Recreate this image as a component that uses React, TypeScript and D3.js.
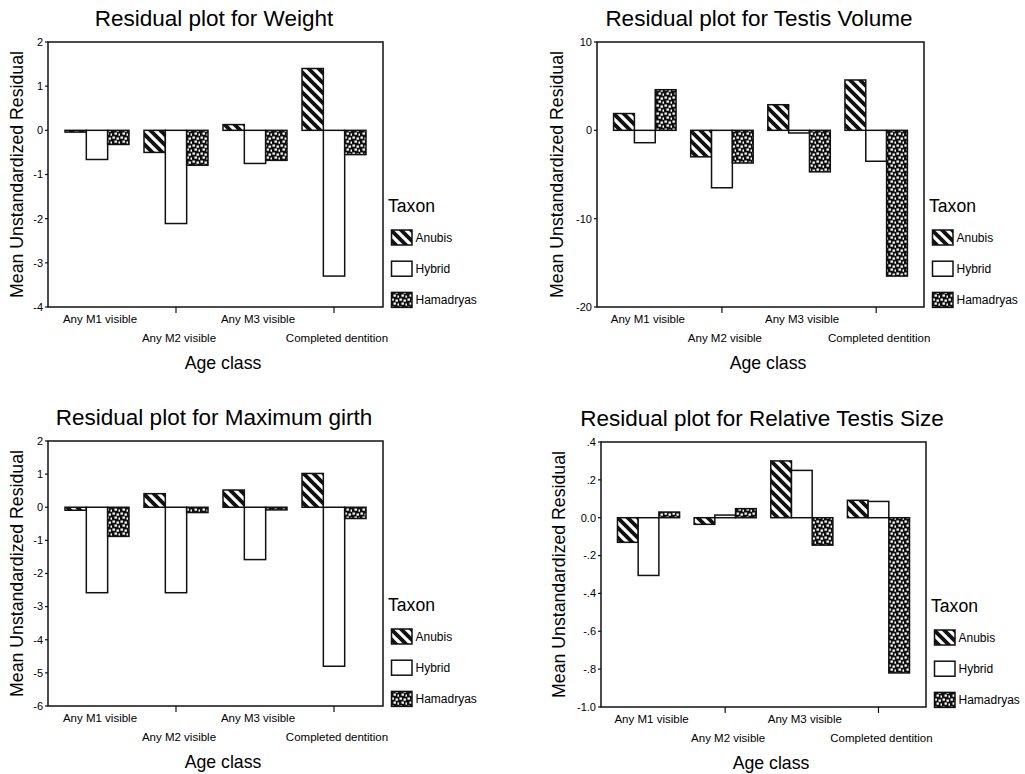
import React, { useEffect, useRef } from 'react'
import * as d3 from 'd3'

// categories and series
const categories = ['Any M1 visible', 'Any M2 visible', 'Any M3 visible', 'Completed dentition']
const taxa = ['Anubis', 'Hybrid', 'Hamadryas']

const weightAnubis = [-0.04, -0.5, 0.13, 1.4]
const weightHybrid = [-0.66, -2.11, -0.75, -3.3]
const weightHamadryas = [-0.32, -0.79, -0.68, -0.55]

const volumeAnubis = [1.9, -3.0, 2.9, 5.7]
const volumeHybrid = [-1.4, -6.5, -0.3, -3.5]
const volumeHamadryas = [4.6, -3.7, -4.7, -16.5]

const girthAnubis = [-0.09, 0.41, 0.52, 1.02]
const girthHybrid = [-2.58, -2.58, -1.58, -4.8]
const girthHamadryas = [-0.88, -0.16, -0.08, -0.34]

const relAnubis = [-0.13, -0.035, 0.3, 0.092]
const relHybrid = [-0.305, 0.014, 0.25, 0.086]
const relHamadryas = [0.03, 0.048, -0.145, -0.82]

const weightTicks = [2, 1, 0, -1, -2, -3, -4]
const volumeTicks = [10, 0, -10, -20]
const girthTicks = [2, 1, 0, -1, -2, -3, -4, -5, -6]
const relTicks = [0.4, 0.2, 0, -0.2, -0.4, -0.6, -0.8, -1.0]
const relTickLabels = ['.4', '.2', '0.0', '-.2', '-.4', '-.6', '-.8', '-1.0']

const FONT = '"Liberation Sans", Arial, sans-serif'
const fills = ['url(#stripes)', '#fff', 'url(#dots)']

const panels = [
  {
    title: 'Residual plot for Weight',
    series: [weightAnubis, weightHybrid, weightHamadryas],
    ticks: weightTicks, tickLabels: weightTicks.map(String),
    x0: 48, x1: 383, y0: 42, y1: 307, ylabOff: 25,
  },
  {
    title: 'Residual plot for Testis Volume',
    series: [volumeAnubis, volumeHybrid, volumeHamadryas],
    ticks: volumeTicks, tickLabels: volumeTicks.map(String),
    x0: 597, x1: 924, y0: 42, y1: 307, ylabOff: 34,
  },
  {
    title: 'Residual plot for Maximum girth',
    series: [girthAnubis, girthHybrid, girthHamadryas],
    ticks: girthTicks, tickLabels: girthTicks.map(String),
    x0: 48, x1: 383, y0: 441, y1: 706, ylabOff: 25,
  },
  {
    title: 'Residual plot for Relative Testis Size',
    series: [relAnubis, relHybrid, relHamadryas],
    ticks: relTicks, tickLabels: relTickLabels,
    x0: 601, x1: 926, y0: 442, y1: 707, ylabOff: 36,
  },
]

const App = () => {
  const ref = useRef<SVGSVGElement>(null)

  useEffect(() => {
    const root = d3.select(ref.current)
    root.selectAll('*').remove()

    const defs = root.append('defs')
    const stripes = defs
      .append('pattern')
      .attr('id', 'stripes')
      .attr('patternUnits', 'userSpaceOnUse')
      .attr('width', 10)
      .attr('height', 10)
    stripes.append('rect').attr('width', 10).attr('height', 10).attr('fill', '#fff')
    stripes
      .append('path')
      .attr('d', 'M-1,-1 L11,11 M-6,4 L6,16 M4,-6 L16,6')
      .attr('stroke', '#111')
      .attr('stroke-width', 3.8)

    // speckled black fill with staggered white squares
    const dots = defs
      .append('pattern')
      .attr('id', 'dots')
      .attr('patternUnits', 'userSpaceOnUse')
      .attr('width', 8)
      .attr('height', 8)
    dots.append('rect').attr('width', 8).attr('height', 8).attr('fill', '#111')
    ;[[0.5, 0.5], [4.5, 1.5], [2.5, 4.5], [6.5, 5.5]].forEach(([dx, dy]) => {
      dots.append('rect').attr('x', dx).attr('y', dy).attr('width', 2.4).attr('height', 2.2).attr('fill', '#fff')
    })

    panels.forEach(p => {
      const g = root.append('g')
      const x = d3.scaleBand<string>().domain(categories).range([p.x0, p.x1]).paddingInner(0.19).paddingOuter(0.215)
      const xs = d3.scaleBand<string>().domain(taxa).range([0, x.bandwidth()])
      const ext = d3.extent(p.ticks) as [number, number]
      const y = d3.scaleLinear().domain(ext).range([p.y1, p.y0])

      // title
      g.append('text')
        .text(p.title)
        .attr('x', (p.x0 + p.x1) / 2 - 1.5)
        .attr('y', p.y0 - 16)
        .attr('text-anchor', 'middle')
        .attr('font-size', 22.5)
        .attr('font-family', FONT)

      // bars
      p.series.forEach((vals, si) => {
        g.append('g')
          .selectAll('rect')
          .data(vals)
          .enter()
          .append('rect')
          .attr('x', (d, i) => (x(categories[i]) as number) + (xs(taxa[si]) as number))
          .attr('width', xs.bandwidth())
          .attr('y', d => y(Math.max(0, d)))
          .attr('height', d => Math.max(1, Math.abs(y(d) - y(0))))
          .attr('fill', fills[si])
          .attr('stroke', '#111')
          .attr('stroke-width', 1.5)
      })

      // frame
      g.append('rect')
        .attr('x', p.x0)
        .attr('y', p.y0)
        .attr('width', p.x1 - p.x0)
        .attr('height', p.y1 - p.y0)
        .attr('fill', 'none')
        .attr('stroke', '#111')
        .attr('stroke-width', 1.5)

      // y ticks
      const yt = g.append('g').selectAll('g').data(p.ticks).enter().append('g')
      yt.append('line')
        .attr('x1', p.x0 - 3)
        .attr('x2', p.x0)
        .attr('y1', d => y(d))
        .attr('y2', d => y(d))
        .attr('stroke', '#111')
        .attr('stroke-width', 1.2)
      yt.append('text')
        .text((d, i) => p.tickLabels[i])
        .attr('x', p.x0 - 5)
        .attr('y', d => y(d))
        .attr('dy', '0.35em')
        .attr('text-anchor', 'end')
        .attr('font-size', 11)
        .attr('font-family', FONT)

      // x ticks (only visible between staggered labels)
      g.append('g')
        .selectAll('line')
        .data(categories.filter((c, i) => i % 2 === 1))
        .enter()
        .append('line')
        .attr('x1', d => (x(d) as number) + x.bandwidth() / 2)
        .attr('x2', d => (x(d) as number) + x.bandwidth() / 2)
        .attr('y1', p.y1)
        .attr('y2', p.y1 + 6)
        .attr('stroke', '#111')
        .attr('stroke-width', 1.2)

      g.append('g')
        .selectAll('text')
        .data(categories)
        .enter()
        .append('text')
        .text(d => d)
        .attr('x', d => (x(d) as number) + x.bandwidth() / 2 + 3)
        .attr('y', (d, i) => p.y1 + (i % 2 === 0 ? 15.7 : 34.7))
        .attr('text-anchor', 'middle')
        .attr('font-size', 11.5)
        .attr('font-family', FONT)

      // axis titles
      g.append('text')
        .text('Age class')
        .attr('x', (p.x0 + p.x1) / 2 + 7.5)
        .attr('y', p.y1 + 62)
        .attr('text-anchor', 'middle')
        .attr('font-size', 17.7)
        .attr('font-family', FONT)

      g.append('text')
        .text('Mean Unstandardized Residual')
        .attr('transform', `translate(${p.x0 - p.ylabOff}, ${(p.y0 + p.y1) / 2}) rotate(-90)`)
        .attr('text-anchor', 'middle')
        .attr('font-size', 17.7)
        .attr('font-family', FONT)

      // legend
      const lg = g.append('g').attr('transform', `translate(${p.x1}, ${p.y0})`)
      lg.append('text')
        .text('Taxon')
        .attr('x', 5)
        .attr('y', 170)
        .attr('font-size', 17.6)
        .attr('font-family', FONT)
      const items = lg.selectAll('g.item').data(taxa).enter().append('g')
      items.append('rect')
        .attr('x', 8.5)
        .attr('y', (d, i) => 188 + i * 31.2)
        .attr('width', 20.5)
        .attr('height', 15)
        .attr('fill', (d, i) => fills[i])
        .attr('stroke', '#111')
        .attr('stroke-width', 1.5)
      items.append('text')
        .text(d => d)
        .attr('x', 32.5)
        .attr('y', (d, i) => 188 + i * 31.2 + 7.5)
        .attr('dy', '0.35em')
        .attr('font-size', 12)
        .attr('font-family', FONT)
    })
  }, [])

  return (
    <svg
      ref={ref}
      width={1025}
      height={774}
      style={{ position: 'absolute', left: 0, top: 0, background: '#fff' }}
    />
  )
}

export default App
